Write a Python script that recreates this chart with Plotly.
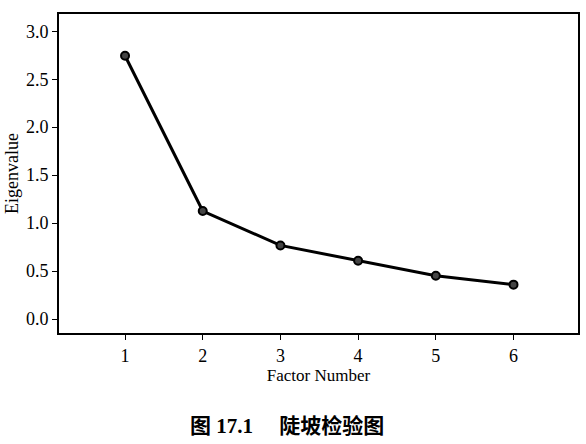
import plotly.graph_objects as go

factors = [1, 2, 3, 4, 5, 6]
eigenvalues = [2.745, 1.126, 0.767, 0.608, 0.451, 0.358]
y_ticks = [0.0, 0.5, 1.0, 1.5, 2.0, 2.5, 3.0]
y_tick_labels = ["0.0", "0.5", "1.0", "1.5", "2.0", "2.5", "3.0"]
x_title = "Factor Number"
y_title = "Eigenvalue"
caption = "<b>图 17.1\u3000 陡坡检验图</b>"

fig = go.Figure()
fig.add_trace(go.Scatter(
    x=factors, y=eigenvalues, mode="lines+markers",
    line=dict(color="black", width=3),
    marker=dict(symbol="circle", size=8, color="#444444",
                line=dict(color="black", width=2)),
    showlegend=False,
))

axis_font = dict(family="Liberation Serif", size=18, color="black")
fig.update_layout(
    width=586, height=444,
    margin=dict(l=59, r=6, t=14, b=111),
    paper_bgcolor="white", plot_bgcolor="white",
    xaxis=dict(range=[0.15, 6.83], tickvals=factors, ticktext=[str(f) for f in factors],
               showline=True, linecolor="black", linewidth=2, mirror=True,
               ticks="outside", ticklen=5, tickcolor="black", tickwidth=1,
               showgrid=False, zeroline=False, tickfont=axis_font,
               title=dict(text=x_title, font=dict(family="Liberation Serif", size=17, color="black"), standoff=4)),
    yaxis=dict(range=[-0.146, 3.18], tickvals=y_ticks, ticktext=y_tick_labels,
               showline=True, linecolor="black", linewidth=2, mirror=True,
               ticks="outside", ticklen=5, tickcolor="black", tickwidth=1,
               showgrid=False, zeroline=False, tickfont=axis_font,
               title=dict(text=y_title, font=dict(family="Liberation Serif", size=18, color="black"), standoff=3)),
)
plot_w = 586 - 59 - 6
plot_h = 444 - 14 - 111
fig.add_annotation(text=caption, x=(288 - 59) / plot_w, xref="paper",
                   y=(444 - 111 - 426) / plot_h, yref="paper",
                   showarrow=False, xanchor="center", yanchor="middle",
                   font=dict(family="Liberation Serif, Noto Sans CJK SC", size=21, color="black"))
fig.write_html("out.html")
